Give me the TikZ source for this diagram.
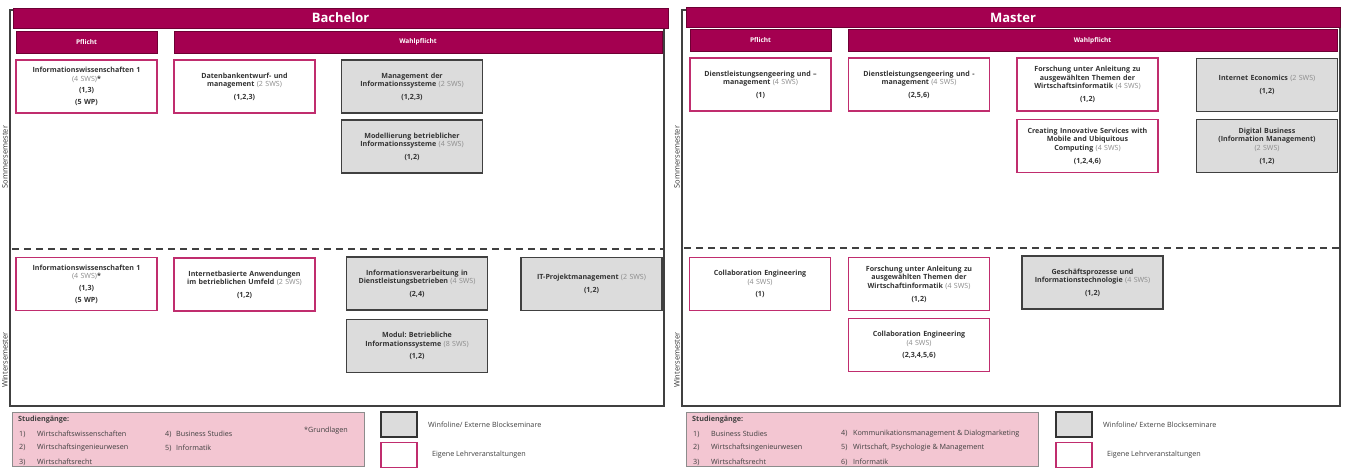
\documentclass[tikz,border=0pt]{standalone}
\usepackage{fontspec}
\setmainfont{Open Sans}
\usetikzlibrary{positioning}
\definecolor{hsred}{RGB}{164,0,80}
\definecolor{hsdark}{RGB}{110,0,52}
\definecolor{hspink}{RGB}{192,45,110}
\definecolor{extgray}{RGB}{220,220,220}
\definecolor{legpink}{RGB}{243,198,210}
\definecolor{swsgray}{RGB}{140,140,140}
\newcommand{\sws}[1]{{\mdseries\color{swsgray}#1}}
\newcommand{\coursefont}{\fontsize{7.1}{8.6}\selectfont\bfseries}
\newcommand{\legendfont}{\fontsize{7.2}{8.5}\selectfont}

\begin{document}
\begin{tikzpicture}[x=1pt,y=-1pt]
    \tikzstyle{frame}=[draw=black!75, line width=1.2pt]
    \tikzstyle{semester line}=[draw=black!75, line width=1.7pt, dash pattern=on 7pt off 5pt]
    \tikzstyle{header bar}=[rectangle, fill=hsred, draw=hsdark, line width=0.8pt, text=white, inner sep=0pt, minimum height=20pt, font=\fontsize{13}{15}\selectfont\bfseries]
    \tikzstyle{sub bar}=[header bar, minimum height=22pt, font=\fontsize{6.5}{8}\selectfont\bfseries]
    \tikzstyle{course}=[rectangle, minimum width=141pt, minimum height=53pt, text width=138pt, align=center, inner sep=1pt, font=\coursefont, text=black!80]
    \tikzstyle{own course}=[course, draw=hspink, line width=1.3pt, fill=white]
    \tikzstyle{ext course}=[course, draw=black!75, line width=1.6pt, fill=extgray]
    \tikzstyle{semester label}=[rotate=90, inner sep=0pt, font=\fontsize{7.5}{8}\selectfont, text=black!80]
    \tikzstyle{legend box}=[rectangle, fill=legpink, draw=black!45, line width=0.8pt, minimum height=54pt]
    \tikzstyle{legend item}=[anchor=west, inner sep=0pt, font=\legendfont, text=black!75]
    \tikzstyle{swatch}=[rectangle, minimum width=36pt, minimum height=25pt, inner sep=0pt]

    \useasboundingbox (0,0) rectangle (1346,470);

    % Draw the two frames and the semester borders
    \draw[frame] (10,10) rectangle (664,406);
    \draw[frame] (682,10) rectangle (1340,406);
    \draw[semester line] (12,249) -- (664,249);
    \draw[semester line] (684,248) -- (1340,248);

    % Bachelor headers
    \node[header bar, minimum width=655pt] (bh) at (340.5,18) {Bachelor};
    \node[sub bar, minimum width=141pt] (bp) at (86.5,42) {Pflicht};
    \node[sub bar, minimum width=488pt] (bw) at (418,42) {Wahlpflicht};

    % Master headers
    \node[header bar, minimum width=654pt] (mh) at (1013,17.5) {Master};
    \node[sub bar, minimum width=141pt] (mp) at (760.5,40.5) {Pflicht};
    \node[sub bar, minimum width=489pt] (mw) at (1092.5,40.5) {Wahlpflicht};

    % Semester labels
    \foreach \x/\side in {5/b,677/m} {
        \node[semester label] (\side-so) at (\x,157) {Sommersemester};
        \node[semester label] (\side-wi) at (\x,360) {Wintersemester};
    }

    % Bachelor, Sommersemester
    \node[own course] (bs-1) at (86.5,86.5) {Informationswissenschaften 1\\ \sws{(4 SWS)}*\\[3pt] (1,3)\\[3pt] (5 WP)};
    \node[own course] (bs-2) at (244.5,86.5) {Datenbankentwurf- und\\ management \sws{(2 SWS)}\\[4pt] (1,2,3)};
    \node[ext course] (bs-3) at (412,86.5) {Management der\\ Informationssysteme \sws{(2 SWS)}\\[4pt] (1,2,3)};
    \node[ext course] (bs-4) at (412,146.5) {Modellierung betrieblicher\\ Informationssysteme \sws{(4 SWS)}\\[4pt] (1,2)};

    % Bachelor, Wintersemester
    \node[own course] (bw-1) at (86.5,284) {Informationswissenschaften 1\\ \sws{(4 SWS)}*\\[3pt] (1,3)\\[3pt] (5 WP)};
    \node[own course] (bw-2) at (244.5,284.5) {Internetbasierte Anwendungen\\ im betrieblichen Umfeld \sws{(2 SWS)}\\[4pt] (1,2)};
    \node[ext course] (bw-3) at (417,283.5) {Informationsverarbeitung in\\ Dienstleistungsbetrieben \sws{(4 SWS)}\\[4pt] (2,4)};
    \node[ext course] (bw-4) at (417,346) {Modul:\ Betriebliche\\ Informationssysteme \sws{(8 SWS)}\\[4pt] (1,2)};
    \node[ext course] (bw-5) at (591.5,284) {IT-Projektmanagement \sws{(2 SWS)}\\[4pt] (1,2)};

    % Master, Sommersemester
    \node[own course] (ms-1) at (760.5,84.5) {Dienstleistungsengeering und –\\ management \sws{(4 SWS)}\\[4pt] (1)};
    \node[own course] (ms-2) at (919,84.5) {Dienstleistungsengeering und -\\ management \sws{(4 SWS)}\\[4pt] (2,5,6)};
    \node[own course] (ms-3) at (1087.5,84.5) {Forschung unter Anleitung zu\\ ausgewählten Themen der\\ Wirtschaftsinformatik \sws{(4 SWS)}\\[4pt] (1,2)};
    \node[own course] (ms-4) at (1087.5,146) {Creating Innovative Services with\\ Mobile and Ubiquitous\\ Computing \sws{(4 SWS)}\\[4pt] (1,2,4,6)};
    \node[ext course] (ms-5) at (1267,85) {Internet Economics \sws{(2 SWS)}\\[4pt] (1,2)};
    \node[ext course] (ms-6) at (1267,146) {Digital Business\\ (Information Management)\\ \sws{(2 SWS)}\\[4pt] (1,2)};

    % Master, Wintersemester
    \node[own course] (mw-1) at (760,284) {Collaboration Engineering\\ \sws{(4 SWS)}\\[4pt] (1)};
    \node[own course] (mw-2) at (919,284) {Forschung unter Anleitung zu\\ ausgewählten Themen der\\ Wirtschaftinformatik \sws{(4 SWS)}\\[4pt] (1,2)};
    \node[own course] (mw-3) at (919,345) {Collaboration Engineering\\ \sws{(4 SWS)}\\[4pt] (2,3,4,5,6)};
    \node[ext course] (mw-4) at (1092.5,282.5) {Geschäftsprozesse und\\ Informationstechnologie \sws{(4 SWS)}\\[4pt] (1,2)};

    % Legend, Bachelor
    \node[legend box, minimum width=352pt] (bl) at (188.5,439.5) {};
    \node[legend item, font=\legendfont\bfseries] (bl-title) at (18,420) {Studiengänge:};
    \foreach \nr/\txt/\x/\y/\w in {1/Wirtschaftswissenschaften/19/434/18, 2/Wirtschaftsingenieurwesen/19/448/18, 3/Wirtschaftsrecht/19/462/18, 4/Business Studies/165/434/11, 5/Informatik/165/448/11}
        \node[legend item] (bl-\nr) at (\x,\y) {\makebox[\w pt][l]{\nr)}\txt};
    \node[legend item] (bl-note) at (304,431) {*Grundlagen};

    % Legend, Master
    \node[legend box, minimum width=352pt] (ml) at (862,439.5) {};
    \node[legend item, font=\legendfont\bfseries] (ml-title) at (692,420) {Studiengänge:};
    \foreach \nr/\txt/\x/\y/\w in {1/Business Studies/693/434/18, 2/Wirtschaftsingenieurwesen/693/448/18, 3/Wirtschaftsrecht/693/462/18, 4/Kommunikationsmanagement \& Dialogmarketing/841/434/12, {5}/{Wirtschaft, Psychologie \& Management}/841/448/12, 6/Informatik/841/462/12}
        \node[legend item] (ml-\nr) at (\x,\y) {\makebox[\w pt][l]{\nr)}\txt};

    % Swatches for the box types
    \foreach \side/\x in {b/399,m/1074} {
        \node[swatch, fill=extgray, draw=black!80, line width=1.8pt] (\side-ext) at (\x,424.5) {};
        \node[swatch, fill=white, draw=hspink, line width=1.8pt] (\side-own) at (\x,455) {};
        \node[legend item, right=10pt of \side-ext.east, anchor=west] (\side-ext-txt) {Winfoline/ Externe Blockseminare};
        \node[legend item, right=14pt of \side-own.east, anchor=west] (\side-own-txt) {Eigene Lehrveranstaltungen};
    }
\end{tikzpicture}
\end{document}
